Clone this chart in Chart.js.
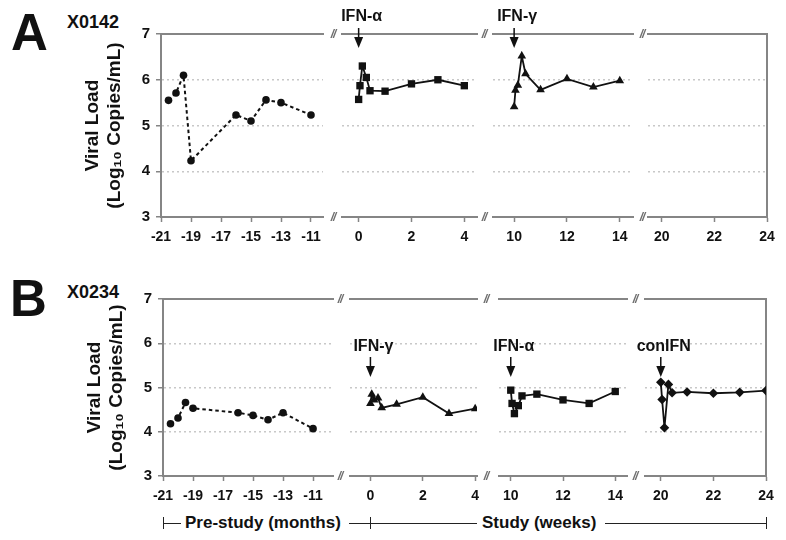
<!DOCTYPE html>
<html>
<head>
<meta charset="utf-8">
<script src="https://cdn.jsdelivr.net/npm/chart.js@4.4.0/dist/chart.umd.min.js"></script>
<style>
  html, body { margin: 0; padding: 0; background: #fff; }
  #fig { position: relative; width: 786px; height: 540px; overflow: hidden;
         font-family: "Liberation Sans", Arial, sans-serif; color: #111; }
  #fig canvas { position: absolute; }
  .lbl { position: absolute; font-weight: bold; line-height: 1; white-space: nowrap; }
  .brk { position: absolute; font: italic bold 12px "Liberation Sans", Arial, sans-serif;
         color: #6e6e6e; transform: translate(-50%, -50%); line-height: 1; letter-spacing: -1px; }
  .hl { position: absolute; height: 0; border-top: 1.5px solid #222; }
  .vl { position: absolute; width: 0; border-left: 1.5px solid #222; }
</style>
</head>
<body>
<div id="fig">
  <div class="lbl" style="left:11px;top:7px;font-size:51px">A</div>
  <div class="lbl" style="left:67px;top:13px;font-size:18px">X0142</div>
  <div class="lbl" style="left:10px;top:273px;font-size:51px">B</div>
  <div class="lbl" style="left:67px;top:283px;font-size:18px">X0234</div>
</div>
<script>
const fig = document.getElementById('fig');
const FONT = '"Liberation Sans", Arial, sans-serif';
const AXIS = '#858585';
const GRID = '#c8c8c8';
const INK = '#111';

// tick labels
const Y_TICKS = [3, 4, 5, 6, 7];
const PRE_TICKS = [-21, -19, -17, -15, -13, -11];
const WK0_TICKS = [0, 2, 4];
const WK10_TICKS = [10, 12, 14];
const WK20_TICKS = [20, 22, 24];

// A: X0142
const A_PRE_X = [-20.5, -20, -19.5, -19, -16, -15, -14, -13, -11];
const A_PRE_Y = [5.55, 5.71, 6.10, 4.23, 5.23, 5.10, 5.56, 5.50, 5.23];
const A_ALPHA_X = [0, 0.05, 0.14, 0.29, 0.43, 1, 2, 3, 4];
const A_ALPHA_Y = [5.57, 5.87, 6.30, 6.05, 5.76, 5.75, 5.91, 6.00, 5.87];
const A_GAMMA_X = [10, 10.05, 10.14, 10.29, 10.43, 11, 12, 13, 14];
const A_GAMMA_Y = [5.41, 5.77, 5.88, 6.52, 6.13, 5.78, 6.02, 5.84, 5.98];

// B: X0234
const B_PRE_X = [-20.5, -20, -19.5, -19, -16, -15, -14, -13, -11];
const B_PRE_Y = [4.18, 4.31, 4.66, 4.53, 4.43, 4.37, 4.27, 4.43, 4.07];
const B_GAMMA_X = [0, 0.05, 0.14, 0.29, 0.43, 1, 2, 3, 4];
const B_GAMMA_Y = [4.64, 4.85, 4.72, 4.76, 4.54, 4.62, 4.78, 4.41, 4.52];
const B_ALPHA_X = [10, 10.05, 10.14, 10.29, 10.43, 11, 12, 13, 14];
const B_ALPHA_Y = [4.94, 4.64, 4.41, 4.59, 4.81, 4.85, 4.72, 4.64, 4.91];
const B_CON_X = [20, 20.05, 20.14, 20.29, 20.43, 21, 22, 23, 24];
const B_CON_Y = [5.12, 4.73, 4.09, 5.07, 4.88, 4.90, 4.87, 4.89, 4.93];

const ROW_A = { top: 0, chartTop: 34, chartBottom: 217, labelY: 17, arrowTop: 28, arrowBottom: 48 };
const ROW_B = { top: 262, chartTop: 299, chartBottom: 476, labelY: 347, arrowTop: 357, arrowBottom: 377 };

const pts = (xs, ys) => xs.map((x, i) => ({ x, y: ys[i] }));

// treatment arrow + label above the start of each course
const arrowPlugin = {
    id: 'arrow',
    afterDraw(chart, args, o) {
        if (!o.label) return;
        const ctx = chart.ctx;
        const x = chart.scales.x.getPixelForValue(o.x);
        const off = o.rowTop;
        ctx.save();
        ctx.fillStyle = INK;
        ctx.strokeStyle = INK;
        ctx.font = 'bold 16px ' + FONT;
        ctx.textAlign = 'center';
        ctx.textBaseline = 'middle';
        ctx.fillText(o.label, x + o.dx, o.labelY - off);
        ctx.lineWidth = 1.5;
        ctx.beginPath();
        ctx.moveTo(x, o.arrowTop - off);
        ctx.lineTo(x, o.arrowBottom - off - 8);
        ctx.stroke();
        ctx.beginPath();
        ctx.moveTo(x - 4.5, o.arrowBottom - off - 11);
        ctx.lineTo(x + 4.5, o.arrowBottom - off - 11);
        ctx.lineTo(x, o.arrowBottom - off);
        ctx.closePath();
        ctx.fill();
        ctx.restore();
    }
};

function segment(row, s) {
    const yW = s.first ? 100 : 0;
    const padL = s.first ? 0 : 20, padR = 20;
    const cv = document.createElement('canvas');
    cv.width = (s.right - s.left) + yW + padL + padR;
    cv.height = row.chartBottom + 30 - row.top;
    cv.style.left = (s.left - yW - padL) + 'px';
    cv.style.top = row.top + 'px';
    fig.appendChild(cv);

    const datasets = [];
    if (s.xs) {
        datasets.push({
            data: pts(s.xs, s.ys),
            borderColor: INK,
            borderWidth: s.dashed ? 2 : 1.8,
            borderDash: s.dashed ? [3.5, 3] : [],
            pointStyle: s.marker,
            pointRadius: s.radius,
            pointBackgroundColor: INK,
            pointBorderColor: INK,
            pointBorderWidth: 0,
            tension: 0,
        });
    }

    const scales = {
        x: {
            type: 'linear', min: s.min, max: s.max,
            afterBuildTicks: sc => { sc.ticks = s.ticks.map(v => ({ value: v })); },
            afterFit: sc => { sc.height = 30; },
            border: { color: AXIS, width: 2 },
            grid: { drawOnChartArea: false, drawTicks: true, tickLength: 5, tickColor: AXIS, tickWidth: 1.5 },
            ticks: { color: INK, font: { family: FONT, size: 14, weight: 'bold' }, padding: 7, autoSkip: false, maxRotation: 0 },
        },
        top: {
            type: 'linear', position: 'top',
            afterFit: sc => { sc.height = 0; },
            border: { color: AXIS, width: 2 },
            grid: { drawOnChartArea: false, drawTicks: false },
            ticks: { display: false },
        },
        y: {
            type: 'linear', min: 3, max: 7,
            afterBuildTicks: sc => { sc.ticks = Y_TICKS.map(v => ({ value: v })); },
            afterFit: sc => { sc.width = yW; },
            border: { display: !!s.first, color: AXIS, width: 2, dash: [2, 3] },
            grid: {
                color: c => (c.tick && c.tick.value > 3 && c.tick.value < 7) ? GRID : 'rgba(0,0,0,0)',
                lineWidth: 1.5,
                drawTicks: !!s.first, tickLength: 5, tickColor: AXIS, tickWidth: 1.5,
            },
            ticks: { display: !!s.first, color: INK, font: { family: FONT, size: 15, weight: 'bold' }, padding: 6 },
            title: {
                display: !!s.first,
                text: ['Viral Load', '(Log\u2081\u2080 Copies/mL)'],
                color: INK,
                font: { family: FONT, size: 19, weight: 'bold', lineHeight: 1.2 },
                padding: { top: 20, bottom: 0 },
            },
        },
    };
    if (s.last) {
        scales.right = {
            type: 'linear', position: 'right',
            afterFit: sc => { sc.width = 0; },
            border: { color: AXIS, width: 2 },
            grid: { drawOnChartArea: false, drawTicks: false },
            ticks: { display: false },
        };
    }

    new Chart(cv, {
        type: 'line',
        data: { datasets },
        options: {
            responsive: false,
            animation: false,
            layout: { padding: { left: padL, right: padR, top: row.chartTop - row.top, bottom: 0 } },
            plugins: {
                legend: { display: false },
                tooltip: { enabled: false },
                arrow: s.arrow ? {
                    label: s.arrow, x: s.arrowX, dx: s.dx || 3, rowTop: row.top,
                    labelY: row.labelY, arrowTop: row.arrowTop, arrowBottom: row.arrowBottom,
                } : { label: '' },
            },
            scales,
        },
        plugins: [arrowPlugin],
    });
}

// row A
segment(ROW_A, { first: true, left: 161, right: 323, min: -21, max: -10.2, ticks: PRE_TICKS,
    xs: A_PRE_X, ys: A_PRE_Y, dashed: true, marker: 'circle', radius: 3.8 });
segment(ROW_A, { left: 342, right: 477, min: -0.63, max: 4.48, ticks: WK0_TICKS,
    xs: A_ALPHA_X, ys: A_ALPHA_Y, marker: 'rect', radius: 5.2, arrow: 'IFN-\u03b1', arrowX: 0 });
segment(ROW_A, { left: 493, right: 633, min: 9.2, max: 14.5, ticks: WK10_TICKS,
    xs: A_GAMMA_X, ys: A_GAMMA_Y, marker: 'triangle', radius: 5, arrow: 'IFN-\u03b3', arrowX: 10 });
segment(ROW_A, { last: true, left: 648, right: 767, min: 19.48, max: 24, ticks: WK20_TICKS });

// row B
segment(ROW_B, { first: true, left: 163, right: 333, min: -21, max: -9.67, ticks: PRE_TICKS,
    xs: B_PRE_X, ys: B_PRE_Y, dashed: true, marker: 'circle', radius: 3.8 });
segment(ROW_B, { left: 350, right: 477, min: -0.78, max: 4.07, ticks: WK0_TICKS,
    xs: B_GAMMA_X, ys: B_GAMMA_Y, marker: 'triangle', radius: 5, arrow: 'IFN-\u03b3', arrowX: 0 });
segment(ROW_B, { left: 499, right: 627, min: 9.55, max: 14.45, ticks: WK10_TICKS,
    xs: B_ALPHA_X, ys: B_ALPHA_Y, marker: 'rect', radius: 5.2, arrow: 'IFN-\u03b1', arrowX: 10 });
segment(ROW_B, { last: true, left: 645, right: 766, min: 19.4, max: 24, ticks: WK20_TICKS,
    xs: B_CON_X, ys: B_CON_Y, marker: 'rectRot', radius: 4.8, arrow: 'conIFN', arrowX: 20, dx: 0 });

// axis break marks
function brk(x, y) {
    const d = document.createElement('div');
    d.className = 'brk';
    d.textContent = '//';
    d.style.left = x + 'px';
    d.style.top = y + 'px';
    fig.appendChild(d);
}
[333, 484, 642].forEach(x => { brk(x, 34); brk(x, 217); });
[340, 486, 635].forEach(x => { brk(x, 299); brk(x, 476); });

// bottom bracket: pre-study vs study
function el(cls, css, text) {
    const d = document.createElement('div');
    d.className = cls;
    Object.assign(d.style, css);
    if (text) d.textContent = text;
    fig.appendChild(d);
}
const BY = 523;
el('vl', { left: '163px', top: (BY - 6) + 'px', height: '12px' });
el('hl', { left: '163px', top: BY + 'px', width: '18px' });
el('lbl', { left: '185px', top: (BY - 9) + 'px', fontSize: '17px' }, 'Pre-study (months)');
el('hl', { left: '349px', top: BY + 'px', width: '128px' });
el('vl', { left: '370px', top: (BY - 6) + 'px', height: '12px' });
el('lbl', { left: '482px', top: (BY - 9) + 'px', fontSize: '17px' }, 'Study (weeks)');
el('hl', { left: '605px', top: BY + 'px', width: '161px' });
el('vl', { left: '766px', top: (BY - 6) + 'px', height: '12px' });
</script>
</body>
</html>
